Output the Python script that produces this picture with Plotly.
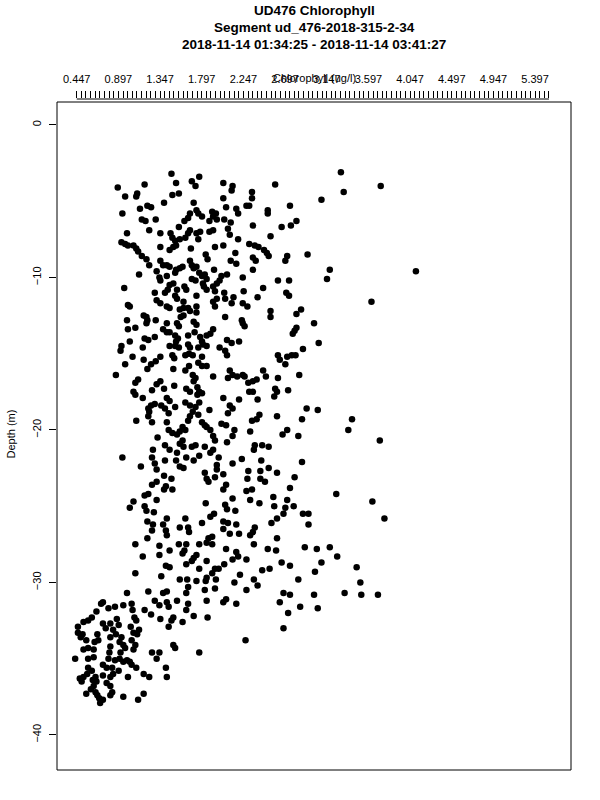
import plotly.graph_objects as go

# ---------------- text ----------------
title_lines = ["UD476 Chlorophyll",
               "Segment ud_476-2018-315-2-34",
               "2018-11-14 01:34:25 - 2018-11-14 03:41:27"]
x_label = "Chlorophyll (ug/l)"
y_label = "Depth (m)"

# ---------------- axis ticks ----------------
x_tick_start = 0.447
x_tick_step = 0.05
x_tick_count = 103
x_label_every = 9
y_ticks = [0, -10, -20, -30, -40]
x_range = [0.234, 5.785]
y_range = [-42.3, 1.7]

# ---------------- data ----------------
chlorophyll = [
    1.47,1.77,1.18,1.52,1.69,1.73,2.03,2.13,2.12,0.89,
    0.97,1.09,1.10,1.48,1.55,2.03,1.39,1.71,1.21,1.25,
    1.13,2.06,1.74,2.17,2.19,0.94,1.15,1.19,1.30,1.67,
    1.65,1.61,1.76,1.80,1.91,1.95,1.92,1.88,1.96,2.04,
    2.11,1.23,1.55,0.99,1.35,1.46,1.48,1.51,1.56,1.62,
    1.65,1.67,1.74,1.78,1.88,1.92,2.08,2.10,1.76,2.19,
    0.93,0.97,1.00,1.06,1.09,1.11,1.35,1.52,1.49,1.45,
    1.68,1.94,2.03,2.16,1.15,1.20,1.35,1.84,1.86,2.11,
    2.17,1.23,1.38,1.42,1.45,1.67,1.69,1.71,1.74,1.31,
    1.52,1.56,1.59,1.51,1.77,1.80,1.83,1.85,1.93,2.07,
    1.12,1.34,1.35,1.42,1.69,1.73,2.01,1.99,1.96,0.96,
    1.45,1.49,1.43,1.53,1.61,1.63,1.82,1.85,1.81,1.92,
    1.94,1.29,1.40,1.51,1.53,1.74,2.04,2.14,2.12,1.31,
    1.35,1.42,1.45,1.60,1.96,1.92,1.94,2.05,2.24,1.00,
    1.02,1.56,1.60,1.65,1.67,1.74,1.74,1.60,1.57,1.17,
    1.20,1.21,1.20,0.99,1.30,1.42,1.53,1.55,1.71,1.74,
    1.72,2.05,2.24,2.26,1.00,1.08,1.38,1.42,1.45,1.92,
    1.89,1.85,1.51,1.54,1.52,1.18,1.22,1.29,1.65,1.02,
    1.78,1.80,2.07,2.12,2.20,0.93,0.92,1.16,1.45,1.51,
    1.55,1.65,1.67,1.81,1.85,1.76,1.99,2.05,
    3.30,2.59,3.73,2.34,2.34,3.33,3.09,2.28,2.31,2.75,
    2.51,2.51,2.82,2.76,2.66,2.35,2.54,2.31,2.37,2.41,
    2.47,2.50,2.52,2.94,2.72,2.70,2.35,2.38,3.18,4.11,
    2.35,2.24,2.62,2.74,3.15,2.46,2.25,2.71,2.74,2.40,
    3.63,2.29,2.87,2.82,2.54,2.54,2.23,3.01,2.82,2.80,
    2.78,3.06,2.89,
    1.05,1.17,1.35,1.48,1.50,1.62,1.66,1.70,1.80,2.07,
    0.97,1.21,1.25,1.30,1.49,1.62,1.66,1.76,1.80,1.85,
    2.10,2.13,2.08,2.18,0.87,1.92,1.11,1.08,1.06,1.08,
    1.31,1.35,1.26,1.39,1.50,1.70,1.73,1.71,1.75,1.77,
    1.80,1.75,1.63,1.67,1.16,1.42,1.45,2.03,2.20,1.25,
    1.22,1.23,1.29,1.36,1.40,1.44,1.51,1.62,1.67,1.77,
    1.73,1.70,1.67,1.65,1.88,2.10,2.13,2.08,1.09,1.22,
    1.26,1.42,1.76,1.80,1.83,1.85,2.01,2.06,2.15,2.13,
    2.07,1.44,1.48,1.53,1.56,1.62,1.59,1.89,1.92,1.94,
    1.32,1.59,1.56,1.60,1.40,1.45,1.53,1.69,1.73,1.83,
    1.92,1.89,1.27,1.26,0.94,1.14,1.29,1.31,1.40,1.52,
    1.63,1.71,1.77,1.98,1.96,2.13,1.56,1.60,1.39,1.47,
    1.96,1.83,1.85,1.87,1.94,2.03,2.06,2.03,1.26,1.31,
    1.41,1.39,1.48,1.18,1.22,1.31,1.06,1.02,1.84,2.13,
    2.05,2.07,2.16,1.18,1.20,1.28,1.93,1.89,1.42,1.62,
    1.21,1.27,1.26,1.38,1.41,1.42,1.56,1.65,1.66,1.80,
    2.03,2.08,2.17,2.03,2.10,1.87,1.91,1.21,2.20,
    2.62,2.64,2.72,2.77,2.81,2.70,2.46,2.24,2.26,2.49,
    2.62,2.85,2.30,2.35,2.39,2.59,2.61,2.58,2.31,2.35,
    2.73,2.40,2.93,3.05,2.42,2.39,2.34,2.61,2.88,3.42,
    3.38,2.32,2.72,2.67,2.84,3.72,2.37,2.36,2.45,2.52,
    2.23,2.44,2.88,2.52,2.30,2.29,2.43,2.61,2.43,2.48,
    2.80,2.75,2.28,2.34,3.25,2.57,2.32,2.42,2.72,3.64,
    2.58,2.70,2.68,2.79,2.89,2.95,3.77,2.61,2.55,2.95,
    2.37,2.35,2.32,2.61,
    1.08,1.34,1.45,1.55,1.63,1.61,1.59,1.77,1.85,1.91,
    2.06,2.17,1.16,1.34,1.74,1.71,1.69,1.85,1.41,1.45,
    1.63,1.77,1.94,1.98,2.04,2.13,2.19,1.08,1.36,1.56,
    1.64,1.74,1.85,1.91,1.84,1.95,2.15,1.65,1.63,1.83,
    1.94,0.99,1.22,1.38,1.42,0.73,0.71,0.86,0.79,0.95,
    1.04,1.05,1.29,1.34,1.42,1.44,1.53,1.65,1.63,1.85,
    2.03,2.06,2.17,1.18,1.25,0.66,0.61,0.57,0.52,0.46,
    1.07,1.09,1.35,1.49,1.47,1.44,1.59,1.71,1.86,0.73,
    0.81,0.88,0.90,0.76,0.84,1.03,1.12,1.06,1.10,0.46,
    0.49,0.51,0.55,0.67,0.68,0.64,0.81,0.87,0.93,0.91,
    1.04,1.08,1.06,0.52,0.57,0.63,0.81,0.80,0.79,0.95,
    0.97,0.92,0.91,1.26,1.34,1.31,1.49,1.51,1.77,0.43,
    0.57,0.63,0.86,0.95,0.99,1.02,1.04,0.73,0.77,0.57,
    0.61,0.56,0.52,0.48,0.50,0.83,0.84,0.90,1.09,1.41,
    1.17,1.23,1.42,0.65,0.62,0.66,0.73,0.81,1.00,0.77,
    0.81,0.83,0.81,0.63,0.60,0.65,0.55,0.67,0.69,0.70,
    0.95,1.11,1.17,0.73,
    2.36,2.51,2.60,2.91,3.04,3.18,3.26,2.28,2.66,2.75,
    3.09,3.47,2.45,2.53,2.84,2.36,2.28,2.40,3.02,3.51,
    3.34,3.52,3.70,2.68,2.75,3.01,2.64,2.86,3.05,2.73,
    2.68,2.27,2.21,
]

depth = [
    -3.2,-3.4,-3.9,-3.8,-3.7,-4.0,-3.8,-4.0,-4.3,-4.1,
    -4.7,-4.7,-4.5,-4.6,-4.5,-4.8,-5.1,-5.1,-5.3,-5.4,
    -5.5,-5.4,-5.6,-5.5,-5.8,-5.8,-6.2,-6.3,-6.2,-5.8,
    -6.1,-6.3,-5.8,-6.0,-5.7,-5.8,-6.0,-6.3,-6.2,-6.2,
    -6.4,-6.9,-6.7,-7.1,-7.1,-7.1,-7.4,-7.6,-7.5,-7.4,
    -7.1,-6.9,-7.1,-7.0,-7.0,-6.9,-6.8,-7.2,-7.5,-7.5,
    -7.7,-7.8,-7.9,-7.9,-8.1,-8.3,-8.0,-7.9,-8.0,-8.2,
    -8.1,-8.0,-7.9,-8.4,-8.6,-8.8,-8.9,-8.5,-8.8,-8.9,
    -9.1,-9.2,-9.2,-9.2,-9.3,-8.9,-9.2,-9.4,-9.3,-9.6,
    -9.5,-9.4,-9.3,-9.7,-9.7,-9.9,-9.8,-10.1,-9.5,-9.8,
    -9.8,-10.0,-10.2,-9.9,-10.1,-10.2,-9.9,-10.2,-10.4,-10.7,
    -10.5,-10.4,-10.8,-10.8,-10.6,-10.8,-10.6,-10.8,-10.4,-10.6,
    -10.9,-11.0,-11.0,-11.2,-11.4,-11.2,-11.0,-11.3,-11.7,-11.5,
    -11.7,-11.9,-12.0,-11.6,-11.4,-11.6,-11.9,-11.4,-11.7,-11.8,
    -11.9,-12.1,-12.0,-12.0,-12.2,-11.9,-12.3,-12.5,-12.6,-12.5,
    -12.6,-12.8,-13.0,-12.8,-12.8,-13.0,-13.0,-13.2,-12.9,-13.1,
    -13.6,-12.6,-13.0,-13.2,-13.4,-13.3,-13.4,-13.6,-13.6,-13.4,
    -13.7,-13.8,-13.8,-14.0,-14.2,-14.0,-14.1,-13.9,-13.8,-14.2,
    -13.9,-14.2,-14.1,-14.3,-14.2,-14.5,-14.8,-14.6,-14.5,-14.5,
    -14.6,-14.4,-14.6,-14.4,-14.5,-14.6,-14.6,-14.8,
    -3.1,-3.9,-4.0,-4.4,-4.8,-4.4,-4.9,-5.3,-5.3,-5.3,
    -5.6,-5.8,-6.3,-6.6,-6.7,-6.6,-7.3,-7.8,-7.9,-8.0,
    -8.2,-8.4,-8.6,-8.5,-8.6,-8.9,-8.7,-8.9,-9.5,-9.6,
    -9.5,-10.0,-10.2,-10.2,-10.1,-10.7,-10.9,-11.0,-11.2,-11.3,
    -11.6,-11.9,-12.1,-12.4,-12.2,-12.6,-12.8,-13.0,-13.3,-13.5,
    -13.7,-14.3,-14.7,
    -15.2,-15.4,-15.2,-15.1,-15.3,-15.1,-15.0,-15.1,-15.2,-15.1,
    -15.7,-16.0,-15.7,-15.5,-16.0,-16.1,-15.8,-15.6,-15.8,-15.8,
    -16.1,-16.4,-16.6,-16.5,-16.4,-16.5,-16.7,-16.9,-17.5,-17.7,
    -17.0,-16.8,-17.4,-17.3,-17.1,-16.4,-16.6,-16.8,-17.2,-17.5,
    -17.6,-17.7,-17.3,-17.5,-17.9,-17.9,-18.1,-17.9,-18.0,-18.4,
    -18.6,-18.8,-18.3,-18.4,-18.6,-18.9,-18.5,-18.2,-18.4,-18.2,
    -18.5,-18.8,-19.1,-19.4,-18.7,-18.4,-18.6,-18.9,-19.4,-19.1,
    -19.5,-19.5,-19.0,-19.5,-19.7,-19.8,-19.6,-19.7,-20.0,-20.4,
    -20.8,-20.0,-20.2,-20.3,-20.1,-20.0,-19.8,-20.0,-20.4,-20.7,
    -20.5,-20.7,-20.9,-21.1,-21.0,-21.3,-21.5,-21.1,-21.0,-21.1,
    -21.3,-21.5,-21.3,-21.8,-21.8,-22.4,-22.2,-22.6,-22.0,-22.0,
    -21.8,-22.0,-21.7,-21.8,-22.3,-22.2,-22.4,-22.5,-23.0,-23.2,
    -22.6,-22.8,-23.2,-23.4,-23.1,-22.9,-23.6,-23.9,-23.6,-23.4,
    -23.7,-23.9,-23.9,-24.3,-24.2,-24.6,-24.7,-25.1,-24.8,-24.5,
    -24.9,-25.2,-25.3,-25.0,-25.3,-25.4,-25.5,-25.7,-25.8,-25.8,
    -26.0,-26.2,-26.6,-26.2,-26.6,-26.9,-26.4,-26.4,-26.7,-26.1,
    -26.0,-26.1,-26.2,-26.5,-26.8,-27.1,-27.0,-27.1,-26.8,
    -15.1,-15.4,-15.2,-15.1,-15.1,-15.7,-16.1,-16.4,-16.5,-16.5,
    -16.6,-16.4,-16.9,-16.8,-16.7,-17.3,-17.5,-17.8,-17.5,-17.5,
    -17.4,-18.0,-18.6,-18.7,-19.0,-19.3,-19.4,-19.1,-19.3,-19.3,
    -20.0,-20.1,-20.0,-20.3,-20.4,-20.7,-21.0,-21.3,-21.0,-21.1,
    -21.9,-22.0,-22.1,-22.5,-22.7,-23.2,-22.7,-22.8,-23.2,-23.4,
    -23.1,-23.8,-24.0,-23.9,-24.2,-24.4,-24.6,-24.8,-24.6,-24.7,
    -25.0,-25.1,-25.5,-25.0,-25.5,-25.5,-25.8,-25.8,-26.1,-26.2,
    -26.4,-26.7,-26.9,-27.1,
    -27.5,-27.6,-27.9,-27.5,-27.5,-27.9,-28.1,-27.5,-27.4,-27.5,
    -27.8,-28.0,-28.3,-28.2,-28.2,-28.4,-28.6,-28.6,-28.9,-29.0,
    -28.8,-29.1,-29.1,-29.1,-28.8,-28.5,-28.3,-29.4,-29.6,-29.8,
    -29.8,-29.9,-29.7,-29.4,-29.9,-29.8,-30.0,-30.3,-30.7,-30.5,
    -30.4,-30.7,-30.6,-30.7,-30.6,-31.3,-31.4,-31.6,-31.7,-31.5,
    -31.4,-31.8,-31.2,-31.5,-31.3,-31.6,-31.2,-31.4,-31.8,-31.2,
    -31.3,-31.1,-31.4,-31.8,-32.1,-31.9,-32.3,-32.5,-32.6,-32.9,
    -32.3,-32.5,-32.4,-32.3,-32.5,-32.9,-32.6,-32.2,-32.3,-32.7,
    -32.7,-32.4,-32.8,-33.0,-33.1,-32.9,-33.1,-33.3,-33.4,-33.3,
    -33.6,-33.4,-33.8,-33.4,-33.8,-33.9,-33.6,-33.4,-33.6,-33.9,
    -33.8,-34.1,-34.4,-34.4,-34.3,-34.4,-34.2,-34.6,-35.0,-34.1,
    -34.3,-34.6,-35.0,-34.6,-34.6,-35.0,-34.1,-34.3,-34.6,-35.0,
    -35.0,-34.9,-35.1,-35.2,-35.1,-35.2,-35.4,-35.4,-35.6,-35.6,
    -35.8,-36.0,-36.2,-36.3,-36.5,-35.6,-36.0,-35.8,-35.6,-35.6,
    -36.0,-36.2,-36.2,-36.2,-36.4,-36.5,-36.1,-36.2,-36.2,-36.6,
    -36.8,-37.2,-37.4,-36.8,-37.0,-37.2,-37.3,-37.4,-37.6,-37.9,
    -37.5,-37.7,-37.3,-37.7,
    -27.5,-27.8,-27.9,-27.7,-27.8,-27.7,-28.3,-28.5,-28.7,-28.9,
    -28.7,-29.0,-29.2,-29.1,-29.8,-29.8,-30.5,-30.2,-29.3,-30.0,
    -30.7,-30.8,-30.8,-30.7,-30.8,-30.8,-31.3,-31.6,-31.7,-32.0,
    -33.0,-33.8,-29.5,
]

# ---------------- derived tick arrays ----------------
x_tickvals = [round(x_tick_start + i * x_tick_step, 3) for i in range(x_tick_count)]
x_ticktext = [f"{v:.3f}" if i % x_label_every == 0 else "" for i, v in enumerate(x_tickvals)]

# ---------------- figure ----------------
W, H = 600, 800
ML, MR, MT, MB = 57, 29, 99, 30
PH = H - MT - MB
PW = W - ML - MR


def ypaper(px):
    return 1 + (MT - px) / PH


FONT = "Liberation Sans, Arial, Helvetica, sans-serif"

fig = go.Figure()
fig.add_trace(go.Scatter(
    x=chlorophyll, y=depth, mode="markers",
    marker=dict(color="black", size=6.5, line=dict(width=0)),
    hoverinfo="skip", showlegend=False,
))

fig.update_layout(
    width=W, height=H,
    margin=dict(l=ML, r=MR, t=MT, b=MB, pad=0),
    paper_bgcolor="white", plot_bgcolor="white",
    font=dict(family=FONT, color="black", size=11),
    showlegend=False,
)

fig.update_xaxes(
    range=x_range, side="top",
    tickmode="array", tickvals=x_tickvals, ticktext=x_ticktext,
    ticks="outside", ticklen=7, tickwidth=1, tickcolor="black",
    showgrid=False, zeroline=False, showline=False,
    tickfont=dict(family=FONT, size=11, color="black"),
    ticklabelstandoff=4,
)
fig.update_yaxes(
    range=y_range,
    tickmode="array", tickvals=y_ticks,
    ticks="outside", ticklen=7, tickwidth=1, tickcolor="black",
    tickangle=-90,
    showgrid=False, zeroline=False, showline=False,
    tickfont=dict(family=FONT, size=11, color="black"),
    ticklabelstandoff=4,
)

# plot box (slightly below the top axis line, as in the reference)
fig.add_shape(type="rect", xref="paper", yref="paper",
              x0=0, x1=1, y0=0, y1=1 - 3 / PH,
              line=dict(color="black", width=1), fillcolor="rgba(0,0,0,0)", layer="above")
# top axis line spanning first to last tick
fig.add_shape(type="line", xref="x", yref="paper",
              x0=x_tickvals[0], x1=x_tickvals[-1], y0=1, y1=1,
              line=dict(color="black", width=1))

title_y_px = [10, 27, 45]
for txt, ypx in zip(title_lines, title_y_px):
    fig.add_annotation(text=f"<b>{txt}</b>", xref="paper", yref="paper",
                       x=0.5, y=ypaper(ypx), xanchor="center", yanchor="middle",
                       showarrow=False, font=dict(family=FONT, size=13.5, color="black"))

fig.add_annotation(text=x_label, xref="paper", yref="paper",
                   x=0.5, y=ypaper(78), xanchor="center", yanchor="middle",
                   showarrow=False, font=dict(family=FONT, size=11, color="black"))
fig.add_annotation(text=y_label, xref="paper", yref="paper",
                   x=(10 - ML) / PW, y=0.5, xanchor="center", yanchor="middle",
                   textangle=-90, showarrow=False,
                   font=dict(family=FONT, size=11, color="black"))

fig.write_html("out.html",
               config={"displayModeBar": False, "staticPlot": True},
               post_script="document.body.style.margin='0';document.body.style.padding='0';")
